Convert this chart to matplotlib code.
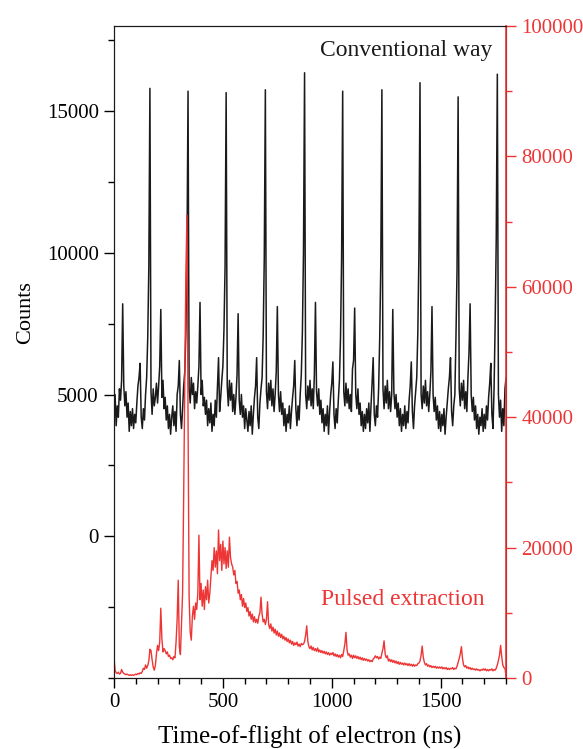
import numpy as np
import matplotlib
matplotlib.use('Agg')
import matplotlib.pyplot as plt
from matplotlib.ticker import MultipleLocator

plt.rcParams['font.family'] = ['Liberation Serif', 'DejaVu Serif']
plt.rcParams['font.size'] = 15

# time-of-flight sampling (ns)
tof_start = 0
tof_step = 5

# conventional way, counts (left axis), one row per 100 ns
conventional = [
    4300, 5000, 3900, 4600, 4200, 5200, 4800, 5500, 8200, 5300, 4600, 5100, 4200, 4700, 3700, 4400, 3900, 4500, 3800, 4300,
    4000, 4700, 5300, 5600, 6100, 4200, 3800, 4500, 4100, 5000, 5600, 7000, 9500, 15800, 5100, 4300, 5200, 4600, 4900, 5400,
    4700, 5300, 6000, 8000, 4900, 5500, 4500, 4900, 4100, 4600, 3800, 4300, 3600, 4200, 4600, 3900, 4400, 3700, 5000, 5300,
    6200, 4300, 3800, 4500, 5300, 5800, 7200, 9800, 15700, 5200, 4700, 5600, 5000, 5400, 4500, 5100, 4700, 5300, 6000, 8250,
    5000, 5500, 4600, 4900, 4300, 4800, 3900, 4500, 4000, 4700, 3700, 4300, 3900, 4800, 4200, 5200, 6300, 4400, 4900, 5500,
    6000, 7300, 9500, 15650, 5300, 4600, 5500, 4800, 5400, 4400, 5000, 4300, 4900, 5700, 7850, 4800, 4300, 5000, 4200, 4600,
    3800, 4500, 4100, 3700, 4400, 3900, 4600, 3600, 4300, 4900, 5300, 6300, 4200, 3800, 4700, 5200, 5600, 7100, 9800, 15750,
    5100, 4500, 5400, 4800, 5500, 4600, 5200, 4400, 5000, 5800, 8100, 5000, 4400, 5100, 4300, 4700, 3900, 4500, 3700, 4300,
    4000, 4600, 3800, 4400, 4900, 5300, 6200, 4500, 3900, 4600, 4100, 5000, 5700, 7200, 10000, 16350, 5000, 4500, 5300, 4800,
    5500, 4600, 5200, 4500, 5700, 8250, 5100, 4600, 5200, 4300, 4800, 4000, 4500, 3700, 4300, 3900, 4600, 3600, 4400, 5000,
    5400, 6150, 4300, 3800, 4500, 4000, 4800, 5500, 7000, 9800, 15700, 5100, 4600, 5400, 4700, 5200, 4500, 5000, 4400, 5900,
    6200, 8050, 5000, 4500, 5200, 4300, 4700, 3900, 4400, 3700, 4300, 3800, 4500, 4000, 4700, 3700, 4600, 5400, 6300, 4300,
    3900, 4600, 4200, 5200, 7000, 9600, 15750, 5200, 4500, 5300, 4700, 5500, 4500, 5100, 4400, 5000, 8000, 5100, 4500, 5000,
    4200, 4700, 3900, 4500, 3700, 4300, 3900, 4600, 3800, 4400, 4000, 4800, 5300, 6150, 4400, 3800, 4600, 5100, 5600, 7200,
    10000, 16000, 5000, 4500, 5300, 4700, 5500, 4600, 5100, 4400, 5000, 5800, 8100, 5000, 4400, 4900, 4100, 4600, 3800, 4400,
    3700, 4300, 3900, 4500, 3600, 4200, 4700, 5200, 5600, 6300, 4400, 3900, 4600, 5000, 7000, 9400, 15500, 5200, 4600, 5400,
    4800, 5500, 4500, 5100, 4400, 5600, 6500, 8200, 5000, 4400, 4900, 4100, 4600, 3800, 4300, 3600, 4200, 3900, 4500, 3700,
    4300, 3800, 4600, 4100, 4900, 5400, 6100, 4300, 3800, 5200, 7500, 10500, 16300, 5000, 4200, 4800, 3700, 4500, 3900, 5200,
    5600,
]

# pulsed extraction, counts (right axis), one row per 100 ns
pulsed = [
    3200, 1200, 800, 700, 900, 600, 700, 1300, 900, 700, 600, 500, 600, 500, 400, 500, 400, 500, 400, 500,
    600, 500, 700, 600, 800, 700, 1000, 1500, 1300, 2000, 1500, 1900, 2600, 4400, 4200, 2800, 1700, 1200, 1900, 3700,
    5000, 4200, 5500, 10700, 6000, 4000, 4500, 4200, 3700, 4000, 3300, 3500, 3000, 3100, 2800, 3300, 3100, 5500, 9000, 15000,
    4800, 3600, 8400, 13000, 28000, 45000, 62000, 71000, 40000, 12400, 7000, 5800, 9500, 11000, 9000, 11500, 10500, 13000, 21900, 12000,
    14500, 11000, 13500, 10500, 14000, 12000, 15000, 11500, 13000, 15500, 18000, 16500, 20000, 17000, 19500, 16000, 22700, 18000, 20500, 16500,
    21000, 17500, 20000, 16800, 19500, 17000, 21600, 18500, 17500, 17000, 15800, 16500, 14500, 14800, 13000, 13500, 12000, 12800, 11000, 12200,
    10800, 11500, 10200, 10800, 9500, 10200, 9000, 9800, 8600, 9400, 8500, 9000, 8400, 9500, 10000, 12400, 9800, 8600, 9000, 8200,
    9000, 11700, 8200, 7600, 8300, 7200, 7800, 6900, 7500, 6600, 7200, 6400, 6900, 6200, 6700, 6000, 6400, 5800, 6200, 5600,
    6000, 5400, 5800, 5200, 5600, 5000, 5400, 5100, 5500, 4900, 5200, 4800, 5300, 5100, 5200, 5600, 6600, 8000, 5600, 4800,
    4500, 4900, 4300, 4700, 4200, 4500, 4100, 4600, 4000, 4300, 3900, 4200, 3800, 4100, 3700, 4000, 3600, 3900, 3500, 3800,
    3600, 3900, 3400, 3700, 3300, 3600, 3200, 3500, 3100, 3600, 3300, 4200, 5200, 7000, 4300, 3500, 3700, 3200, 3500, 3000,
    3500, 3100, 3400, 3000, 3300, 2900, 3200, 2800, 3100, 2700, 3000, 2700, 2900, 2600, 2800, 2500, 2700, 2500, 2900, 3100,
    3400, 3100, 3300, 2900, 3200, 3000, 3800, 4500, 5700, 3700, 3100, 3400, 2600, 2900, 2500, 2800, 2400, 2700, 2300, 2600,
    2200, 2500, 2100, 2400, 2100, 2300, 2000, 2300, 2000, 2200, 1900, 2200, 1900, 2100, 1800, 2100, 1800, 2000, 1900, 2200,
    2300, 2600, 3500, 4900, 3200, 2400, 2000, 2200, 1800, 2000, 1700, 1900, 1600, 1800, 1600, 1800, 1500, 1700, 1500, 1700,
    1500, 1700, 1400, 1600, 1400, 1600, 1300, 1500, 1300, 1500, 1400, 1600, 1300, 1500, 1400, 1800, 2400, 3000, 3700, 4800,
    3000, 2000, 1700, 1900, 1500, 1700, 1400, 1600, 1300, 1500, 1300, 1400, 1200, 1400, 1200, 1300, 1100, 1300, 1200, 1400,
    1200, 1400, 1100, 1300, 1100, 1300, 1200, 1400, 1100, 1300, 1200, 1500, 2000, 2700, 3500, 5000, 3300, 2000, 1600, 1500,
    300,
]

tof = tof_start + tof_step * np.arange(len(conventional))

red = '#ee3535'

fig = plt.figure(figsize=(5.83, 7.49), dpi=100)
ax = fig.add_axes([0.1955, 0.0948, 0.6725, 0.8705])
ax2 = ax.twinx()

ax.plot(tof, conventional, color='#1a1a1a', lw=1.1)
ax2.plot(tof, pulsed, color=red, lw=1.0)

ax.set_xlim(0, 1800)
ax.set_ylim(-5000, 18000)
ax2.set_ylim(0, 100000)

ax.set_xticks([0, 500, 1000, 1500])
ax.xaxis.set_minor_locator(MultipleLocator(100))
ax.set_yticks([0, 5000, 10000, 15000])
ax.yaxis.set_minor_locator(MultipleLocator(2500))
ax2.set_yticks([0, 20000, 40000, 60000, 80000, 100000])
ax2.yaxis.set_minor_locator(MultipleLocator(10000))

ax.tick_params(which='major', length=7, width=1, pad=4, labelsize=15)
ax.tick_params(which='minor', length=4, width=1)
ax.tick_params(axis='x', which='both', top=False)
ax2.tick_params(which='major', length=7, width=1, pad=4, labelsize=15,
                colors=red)
ax2.tick_params(which='minor', length=4, width=1, colors=red)

for s in ['left', 'top', 'bottom']:
    ax2.spines[s].set_color('#1a1a1a')
ax2.spines['right'].set_color(red)
ax2.spines['right'].set_linewidth(1.2)

ax.set_xlabel('Time-of-flight of electron (ns)', fontsize=18)
ax.xaxis.set_label_coords(0.5, -0.073)
ax.set_ylabel('Counts', fontsize=16)
ax.yaxis.set_label_coords(-0.20, 0.56)

ax.text(0.964, 0.962, 'Conventional way', transform=ax.transAxes,
        ha='right', va='center', fontsize=17, color='#1a1a1a')
ax.text(0.946, 0.12, 'Pulsed extraction', transform=ax.transAxes,
        ha='right', va='center', fontsize=17, color=red)

fig.savefig('out.png', dpi=100)
